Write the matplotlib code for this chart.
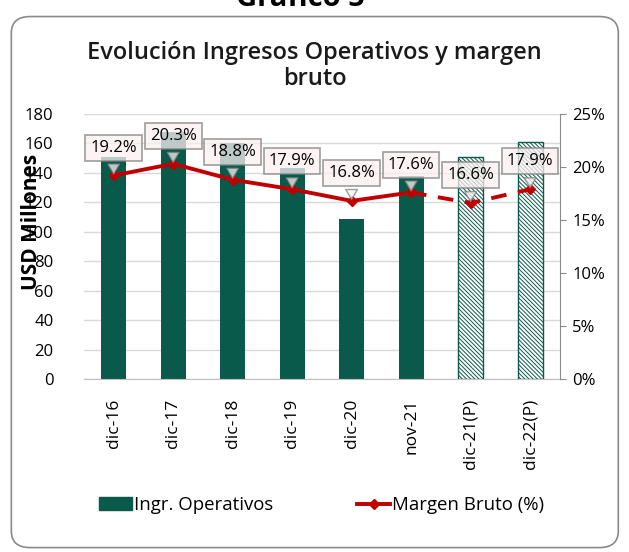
import matplotlib
matplotlib.use("Agg")
import matplotlib.pyplot as plt
from matplotlib.patches import FancyBboxPatch, Patch
from matplotlib.lines import Line2D
import numpy as np

# --- Datos del gráfico ---
periodos = ['dic-16', 'dic-17', 'dic-18', 'dic-19', 'dic-20', 'nov-21', 'dic-21(P)', 'dic-22(P)']
ingresos = [151, 168, 160, 143, 109, 138, 151, 161]
margen = [19.2, 20.3, 18.8, 17.9, 16.8, 17.6, 16.6, 17.9]
proyectado = [False, False, False, False, False, False, True, True]

VERDE = '#0A5A4C'
ROJO = '#C00000'
plt.rcParams['font.family'] = ['Open Sans', 'DejaVu Sans']
plt.rcParams['hatch.linewidth'] = 0.7

fig = plt.figure(figsize=(6.29, 5.52), dpi=100)

# marco redondeado
marco = FancyBboxPatch((0.018, 0.008), 0.965, 0.962, boxstyle='round,pad=0,rounding_size=0.03',
                       transform=fig.transFigure, fc='none', ec='#8a8a8a', lw=1.2, zorder=-1)
fig.patches.append(marco)

fig.text(0.478, 1.003, 'Gráfico 5', ha='center', va='center', fontsize=21, fontweight='bold')
fig.text(0.5, 0.88, 'Evolución Ingresos Operativos y margen\nbruto', ha='center', va='center',
         fontsize=17, fontweight='semibold', color='#1a1a1a', linespacing=1.1)

ax = fig.add_axes([0.1335, 0.3134, 0.7565, 0.4801])
x = np.arange(len(periodos))
ancho = 0.42
for i in x:
    if proyectado[i]:
        ax.bar(i, ingresos[i], ancho, facecolor='white', edgecolor=VERDE, hatch='\\' * 8, lw=1.0, zorder=2)
    else:
        ax.bar(i, ingresos[i], ancho, color=VERDE, zorder=2)

ax.set_xlim(-0.5, len(periodos) - 0.5)
ax.set_ylim(0, 180)
ax.set_yticks(np.arange(0, 181, 20))
ax.yaxis.grid(True, color='#d9d9d9', lw=1)
ax.set_axisbelow(True)
for s in ['top', 'right', 'left']:
    ax.spines[s].set_visible(False)
ax.spines['bottom'].set_color('#bfbfbf')
ax.tick_params(axis='y', length=0, labelsize=12, pad=22)
ax.tick_params(axis='x', length=0, labelsize=12.5, pad=14)
ax.set_xticks(x)
ax.set_xticklabels(periodos, rotation=90)
ax.set_ylabel('USD Millones', fontsize=15, fontweight='bold')
ax.yaxis.set_label_coords(-0.089, 0.592)

ax2 = ax.twinx()
ax2.set_ylim(0, 25)
ax2.set_yticks(np.arange(0, 26, 5))
ax2.set_yticklabels([f'{v}%' for v in range(0, 26, 5)])
for s in ['top', 'left', 'bottom']:
    ax2.spines[s].set_visible(False)
ax2.spines['right'].set_color('#8a8a8a')
ax2.tick_params(axis='y', length=4, color='#8a8a8a', labelsize=12, pad=5)

ax2.plot(x[:6], margen[:6], color=ROJO, lw=2.8, marker='D', ms=5, zorder=3)
ax2.plot(x[5:], margen[5:], color=ROJO, lw=2.8, marker='D', ms=5, dashes=(4, 3), zorder=3)

for i in x:
    ax2.annotate(f'{margen[i]:.1f}%', (i, margen[i]), xytext=(0, 20), textcoords='offset points',
                 ha='center', va='center', fontsize=12, zorder=5,
                 bbox=dict(boxstyle='square,pad=0.3', fc='#fbf1f1', ec='#7f7f7f', lw=1.2, alpha=0.75),
                 arrowprops=dict(arrowstyle='wedge,tail_width=0.7,shrink_factor=0.5',
                                 fc='#fbf1f1', ec='#7f7f7f', lw=1, alpha=0.75, shrinkB=1))

handles = [Patch(facecolor=VERDE, edgecolor=VERDE),
           Line2D([0], [0], color=ROJO, lw=2.8, marker='D', ms=5)]
fig.legend(handles, ['Ingr. Operativos', 'Margen Bruto (%)'], loc='center', bbox_to_anchor=(0.511, 0.085),
           ncol=2, frameon=False, fontsize=13.4, columnspacing=4.5, handlelength=1.8, handletextpad=0.1)

plt.savefig('out.png', dpi=100)
